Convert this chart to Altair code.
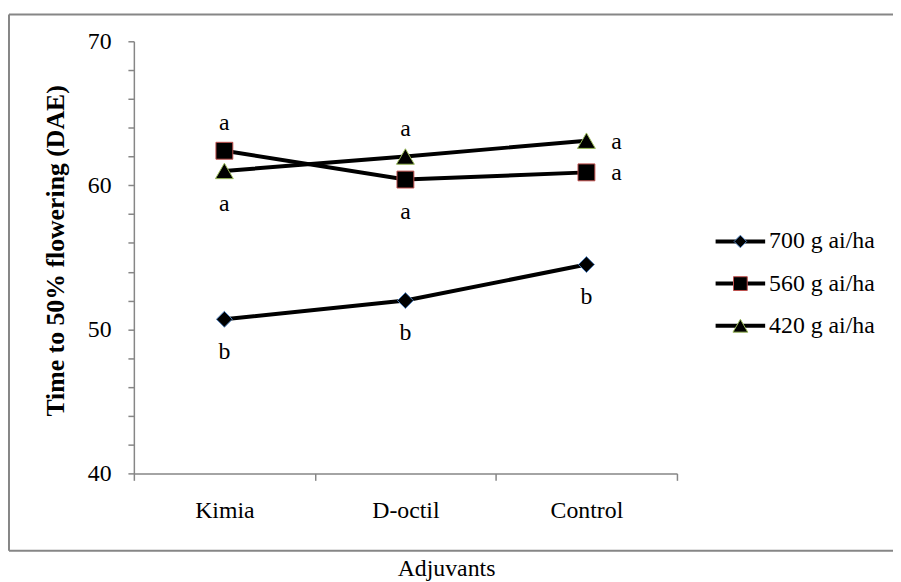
import altair as alt
import pandas as pd

adjuvants = ["Kimia", "D-octil", "Control"]
series_names = ["700 g ai/ha", "560 g ai/ha", "420 g ai/ha"]
values_700 = [50.7, 52.0, 54.5]
values_560 = [62.4, 60.4, 60.9]
values_420 = [61.0, 62.0, 63.1]
letters_700 = ["b", "b", "b"]
letters_560 = ["a", "a", "a"]
letters_420 = ["a", "a", "a"]
place_700 = ["below", "below", "below"]
place_560 = ["above", "below", "right"]
place_420 = ["below", "above", "right"]
y_ticks = list(range(40, 71, 2))

rows = []
for s, vals, lets, pl in zip(series_names,
                             [values_700, values_560, values_420],
                             [letters_700, letters_560, letters_420],
                             [place_700, place_560, place_420]):
    for a, v, l, p in zip(adjuvants, vals, lets, pl):
        rows.append(dict(adjuvant=a, series=s, value=v, letter=l, place=p))
df = pd.DataFrame(rows)

FONT = "Liberation Serif"
GRAY = "#868686"

shape_scale = alt.Scale(domain=series_names, range=["diamond", "square", "triangle-up"])
stroke_scale = alt.Scale(domain=series_names, range=["#4F81BD", "#C0504D", "#9BBB59"])
size_scale = alt.Scale(domain=series_names, range=[256, 324, 300])
leg_size_scale = alt.Scale(domain=series_names, range=[160, 225, 210])

x_enc = alt.X(
    "adjuvant:N", sort=adjuvants,
    scale=alt.Scale(type="band", domain=adjuvants, paddingInner=0, paddingOuter=0),
    axis=alt.Axis(
        title="Adjuvants", titleFont=FONT, titleFontSize=24, titleFontWeight="normal",
        titleColor="black", titleX=315, titleY=103, titleBaseline="alphabetic",
        titleAlign="center",
        tickBand="extent", tickSize=7, tickColor=GRAY, tickWidth=1.5,
        domainColor=GRAY, domainWidth=1.5,
        labelFont=FONT, labelFontSize=24, labelColor="black", labelAngle=0,
        labelBaseline="alphabetic", labelPadding=38, grid=False,
    ),
)
y_enc = alt.Y(
    "value:Q",
    scale=alt.Scale(domain=[40, 70], nice=False, zero=False),
    axis=alt.Axis(
        values=y_ticks, labelExpr="datum.value % 10 === 0 ? datum.label : ''",
        title="Time to 50% flowering (DAE)", titleFont=FONT, titleFontSize=26,
        titleFontWeight="bold", titleColor="black", titlePadding=19, titleY=211,
        labelFont=FONT, labelFontSize=24, labelColor="black", labelPadding=17,
        tickSize=6, tickColor=GRAY, tickWidth=1.5,
        domainColor=GRAY, domainWidth=1.5, grid=False,
    ),
)

base = alt.Chart(df)
lines = base.mark_line(color="black", strokeWidth=4).encode(
    x=x_enc, y=y_enc, detail="series:N"
)
points = base.mark_point(filled=True, opacity=1, strokeWidth=1).encode(
    x=x_enc, y=y_enc,
    shape=alt.Shape("series:N", scale=shape_scale, legend=None),
    stroke=alt.Stroke("series:N", scale=stroke_scale, legend=None),
    fill=alt.value("black"),
    size=alt.Size("series:N", scale=size_scale, legend=None),
)
txt_kw = dict(font=FONT, fontSize=24, color="black", baseline="alphabetic")
above = base.transform_filter("datum.place === 'above'").mark_text(dy=-21, **txt_kw).encode(
    x=x_enc, y=y_enc, text="letter:N")
below = base.transform_filter("datum.place === 'below'").mark_text(dy=40, **txt_kw).encode(
    x=x_enc, y=y_enc, text="letter:N")
right = base.transform_filter("datum.place === 'right'").mark_text(dx=25, dy=8, align="left", **txt_kw).encode(
    x=x_enc, y=y_enc, text="letter:N")

main = alt.layer(lines, points, above, below, right)

leg_df = pd.DataFrame({"series": series_names})
leg_y = alt.Y("series:N", scale=alt.Scale(type="point", domain=series_names, range=[202, 287], padding=0), axis=None)
leg_base = alt.Chart(leg_df)
leg_rule = leg_base.mark_rule(color="black", strokeWidth=4).encode(
    x=alt.value(587), x2=alt.value(637), y=leg_y)
leg_pts = leg_base.mark_point(filled=True, opacity=1, strokeWidth=1).encode(
    x=alt.value(612), y=leg_y,
    shape=alt.Shape("series:N", scale=shape_scale, legend=None),
    stroke=alt.Stroke("series:N", scale=stroke_scale, legend=None),
    fill=alt.value("black"),
    size=alt.Size("series:N", scale=leg_size_scale, legend=None),
)
leg_txt = leg_base.mark_text(align="left", baseline="middle", font=FONT, fontSize=24, color="black").encode(
    x=alt.value(641), y=leg_y, text="series:N")

one = pd.DataFrame({"k": [0]})
bbase = alt.Chart(one)
b_top = bbase.mark_rule(color=GRAY, strokeWidth=2).encode(x=alt.value(-126), x2=alt.value(770), y=alt.value(-27))
b_left = bbase.mark_rule(color=GRAY, strokeWidth=2).encode(x=alt.value(-126), y=alt.value(-27), y2=alt.value(514))
b_bottom = bbase.mark_rule(color=GRAY, strokeWidth=2).encode(x=alt.value(-126), x2=alt.value(770), y=alt.value(514))

legend = alt.layer(leg_rule, leg_pts, leg_txt, b_top, b_left, b_bottom)

chart = alt.layer(main, legend).resolve_scale(y="independent", size="independent").properties(
    width=548, height=436,
    autosize=alt.AutoSizeParams(type="none"),
    padding={"left": 127, "top": 31, "right": 218, "bottom": 107},
).configure_view(stroke=None)

chart.save("out.html", embed_options={"renderer": "svg", "actions": False})
